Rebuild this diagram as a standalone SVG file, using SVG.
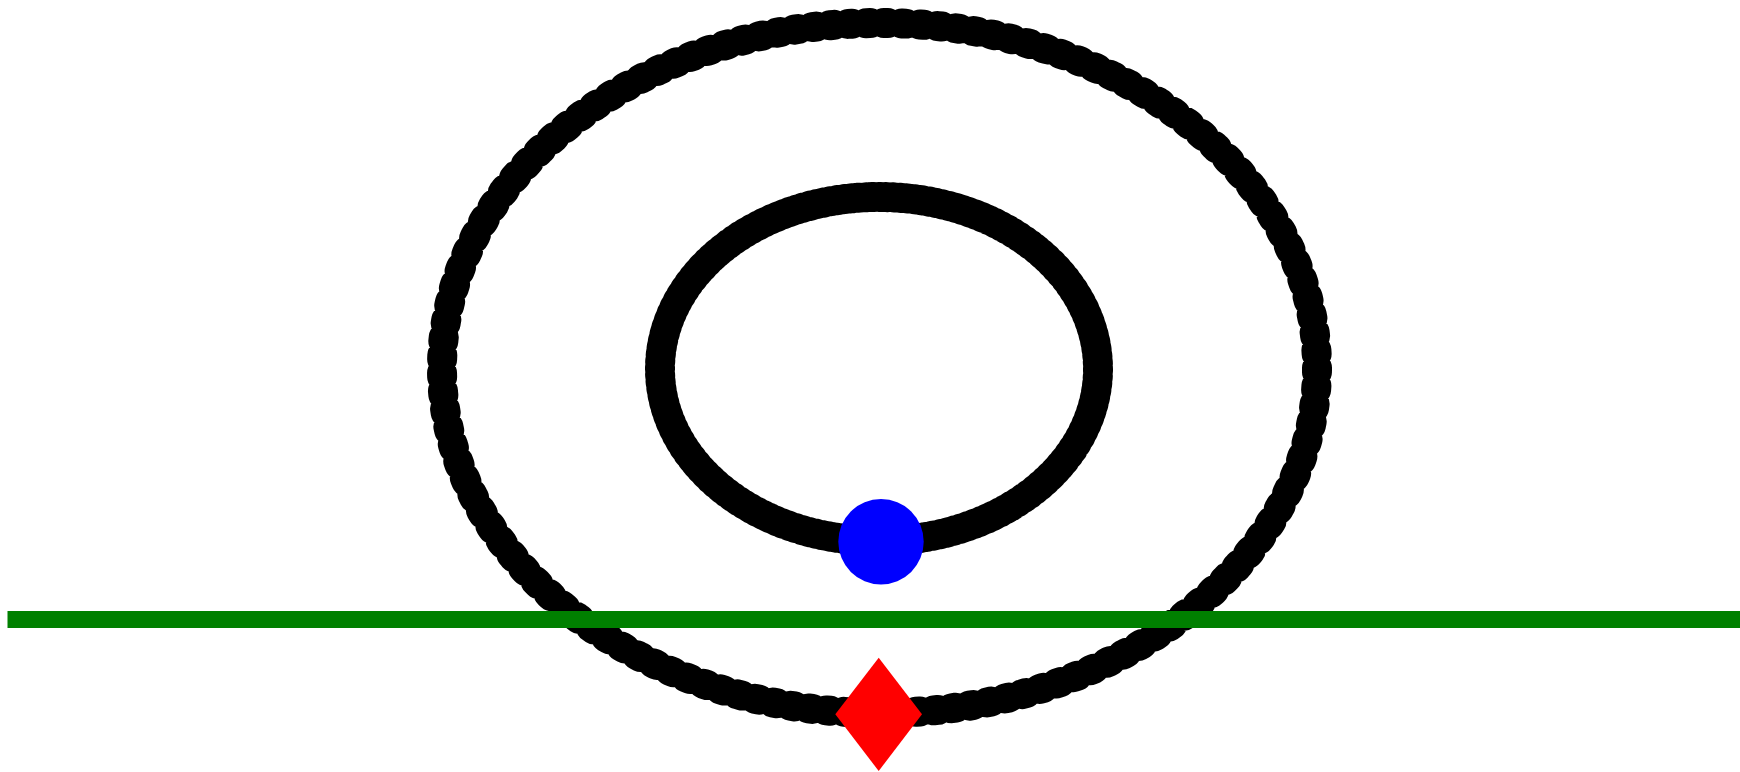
<svg xmlns="http://www.w3.org/2000/svg" width="1740" height="772" viewBox="0 0 1740 772">
  <style>
    .outer { fill: none; stroke: #000; stroke-width: 30; stroke-linecap: round; stroke-dasharray: 4 14; }
    .inner { fill: none; stroke: #000; stroke-width: 30; stroke-linecap: round; stroke-dasharray: 2 5; }
    .ground { stroke: #008000; stroke-width: 17; }
  </style>
  <rect width="1740" height="772" fill="#fff"/>
  <g id="outer-orbit">
    <ellipse class="outer" cx="879.5" cy="368" rx="437.5" ry="345"/>
  </g>
  <g id="inner-orbit">
    <ellipse class="inner" cx="879" cy="369" rx="219" ry="172"/>
  </g>
  <g id="connectors">
    <line class="ground" x1="7.5" y1="619.5" x2="1740" y2="619.5"/>
  </g>
  <g id="blue-point">
    <circle cx="881" cy="541.7" r="42.7" fill="#0000ff"/>
  </g>
  <g id="red-diamond">
    <polygon points="878.7,657.7 922,714.3 878.7,771 835.3,714.3" fill="#ff0000"/>
  </g>
</svg>
